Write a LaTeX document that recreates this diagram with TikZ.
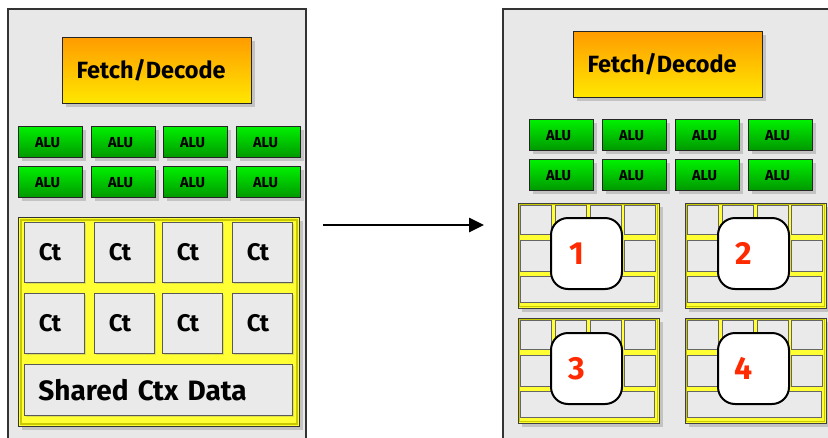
\documentclass[tikz,border=0pt]{standalone}
\usepackage{fontspec}
\setmainfont{Fira Sans}
\usetikzlibrary{shadows,arrows.meta}
\definecolor{panelgray}{HTML}{E8E8E8}
\definecolor{fdtop}{HTML}{FF9C00}
\definecolor{fdbot}{HTML}{FFE800}
\definecolor{alutop}{HTML}{00F000}
\definecolor{alubot}{HTML}{009800}
\definecolor{ctxyellow}{HTML}{FFFF33}
\definecolor{ctxedge}{HTML}{C9C900}
\definecolor{cellgray}{HTML}{EAEAEA}
\definecolor{numred}{HTML}{FF2A00}
\tikzset{
  panel/.style={fill=panelgray, draw=black!80, line width=1.3pt},
  shade/.style={drop shadow={shadow xshift=3pt, shadow yshift=-3pt, opacity=0.35}},
  lightshade/.style={drop shadow={shadow xshift=1.5pt, shadow yshift=-1.5pt, opacity=0.25}},
  fdbox/.style={shade, draw=black!85, line width=1.3pt, top color=fdtop, bottom color=fdbot,
    minimum width=189pt, minimum height=66pt, anchor=north west, inner sep=0pt,
    font=\fontsize{23.5}{26}\selectfont\bfseries},
  alubox/.style={shade, draw=black!85, line width=1.2pt, top color=alutop, bottom color=alubot,
    minimum width=64pt, minimum height=31pt, anchor=north west, inner sep=0pt,
    font=\fontsize{14.5}{16}\selectfont\bfseries},
  ctxregion/.style={shade, fill=ctxyellow, draw=black!80, line width=1.2pt,
    minimum width=281pt, minimum height=209pt, anchor=north west, inner sep=0pt},
  ctcell/.style={lightshade, fill=cellgray, draw=black!65, line width=0.9pt,
    minimum width=60pt, minimum height=60pt, anchor=north west, inner sep=0pt,
    font=\fontsize{24}{26}\selectfont\bfseries},
  sharedcell/.style={lightshade, fill=cellgray, draw=black!65, line width=0.9pt,
    text width=240pt, inner xsep=14pt, minimum height=51pt, anchor=north west,
    align=left, font=\fontsize{28}{30}\selectfont\bfseries},
  blockregion/.style={shade, fill=ctxyellow, draw=black!75, line width=1pt,
    minimum width=141pt, minimum height=105pt, anchor=north west, inner sep=0pt},
  minicell/.style={fill=cellgray, draw=black!60, line width=0.8pt,
    minimum width=30.5pt, anchor=north west, inner sep=0pt},
  minibar/.style={fill=cellgray, draw=black!60, line width=0.8pt,
    minimum width=134pt, minimum height=26pt, anchor=north west, inner sep=0pt},
  numbox/.style={fill=white, draw=black, line width=2pt, rounded corners=17pt,
    minimum width=71pt, minimum height=71pt, inner sep=0pt, text=numred,
    font=\fontsize{32}{34}\selectfont\bfseries},
  bigarrow/.style={line width=2.6pt, -{Triangle[length=15pt,width=14pt]}}
}
\begin{document}
\begin{tikzpicture}[x=1pt,y=-1pt]
\useasboundingbox (0,0) rectangle (828,437);
\clip (0,0) rectangle (828,437);
\fill[white] (0,0) rectangle (828,437);
% panels
\draw[panel] (8,9) rectangle (306,450);
\draw[panel] (503,9) rectangle (845,450);
% fetch/decode
\node[fdbox] (fdL) at (62,37) {\hspace*{-12pt}Fetch/Decode};
\node[fdbox] (fdR) at (573,31) {\hspace*{-12pt}Fetch/Decode};
% ALUs
\foreach \x [count=\i] in {18,91,163,236} {
  \foreach \y [count=\j] in {126,166} {
    \node[alubox] (aluL\j\i) at (\x,\y) {\hspace*{-6pt}ALU};
  }
}
\foreach \x [count=\i] in {529,602,675,748} {
  \foreach \y [count=\j] in {119,159} {
    \node[alubox] (aluR\j\i) at (\x,\y) {\hspace*{-6pt}ALU};
  }
}
% left context region
\node[ctxregion] (ctxL) at (18,217) {};
\draw[ctxedge, line width=2pt] (20.5,219.5) rectangle (296.5,423.5);
\foreach \x [count=\i] in {24,94,162,232} {
  \foreach \y [count=\j] in {222,293} {
    \node[ctcell] (ctL\j\i) at (\x,\y) {\hspace*{-9pt}Ct};
  }
}
\node[sharedcell] (shared) at (24,364) {Shared Ctx Data};
% right context blocks
\foreach \bx/\by/\n in {518/203/1, 685/203/2, 518/318/3, 685/318/4} {
  \node[blockregion] (blk\n) at (\bx,\by) {};
  \draw[ctxedge, line width=1.5pt] (\bx+1.5,\by+1.5) rectangle (\bx+139.5,\by+103.5);
  \foreach \dx [count=\i] in {2,37,72,106} {
    \node[minicell, minimum height=29pt] (c\n a\i) at (\bx+\dx,\by+2) {};
    \node[minicell, minimum height=31pt] (c\n b\i) at (\bx+\dx,\by+37) {};
  }
  \node[minibar] (bar\n) at (\bx+2,\by+73) {};
  \node[numbox] (num\n) at (\bx+68.5,\by+50.5) {\hspace*{-20pt}\n};
}
% arrow
\coordinate (arrS) at (323,225);
\coordinate (arrE) at (484,225);
\draw[bigarrow] (arrS) -- (arrE);
\end{tikzpicture}
\end{document}
